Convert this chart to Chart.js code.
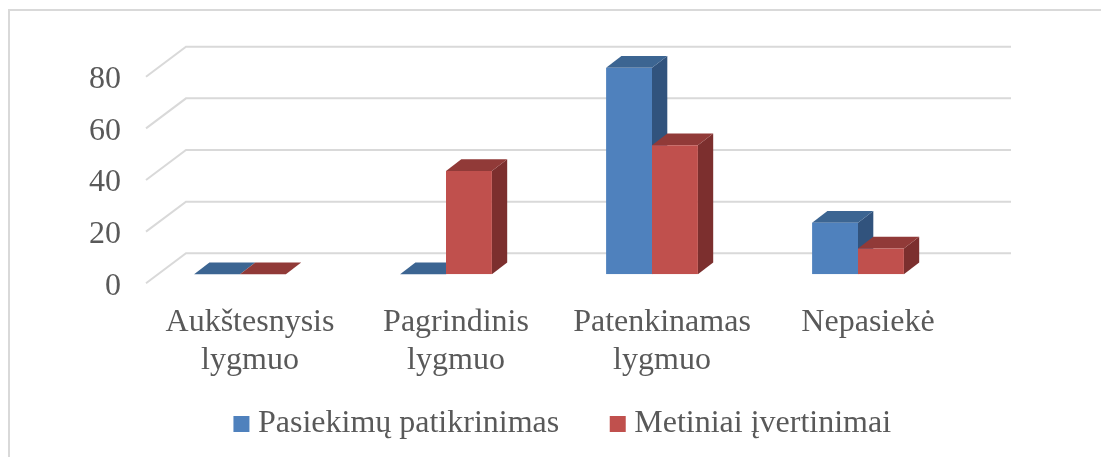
<!DOCTYPE html>
<html>
<head>
<meta charset="utf-8">
<script src="https://cdn.jsdelivr.net/npm/chart.js"></script>
<style>
  html, body { margin: 0; padding: 0; background: #fff; }
  #wrap { position: relative; width: 1101px; height: 457px; }
</style>
</head>
<body>
<div id="wrap"><canvas id="chart"></canvas></div>
<script>
const categories = [['Aukštesnysis', 'lygmuo'], ['Pagrindinis', 'lygmuo'], ['Patenkinamas', 'lygmuo'], 'Nepasiekė'];
const pasiekimuValues = [0, 0, 80, 20];
const metiniaiValues = [0, 40, 50, 10];
const yTicks = [0, 20, 40, 60, 80];

const font = 'Liberation Serif';
const textColor = '#595959';

// fake 3D: depth of the bars and of the floor
const barDepth = { x: 15.3, y: 11.7 };
const gridFront = { x: 146, y: 9 };
const gridBack = { x: 186, y: -21 };
const gridRight = 1011;

const frame3d = {
    id: 'frame3d',
    afterLayout(chart) {
        // the x labels get clipped to the axis box, the legend sits close under it
        chart.scales.x.bottom = 385;
        // legend is not centred on the plot, it spans the whole width
        chart.legend.left = 31;
        chart.legend.right = 1101;
    },
    beforeDraw(chart) {
        const ctx = chart.ctx;
        const yScale = chart.scales.y;
        ctx.save();
        ctx.fillStyle = '#fff';
        ctx.fillRect(0, 0, chart.width, chart.height);
        ctx.strokeStyle = '#d9d9d9';
        ctx.lineWidth = 2;
        ctx.beginPath();
        ctx.moveTo(9, 457);
        ctx.lineTo(9, 10);
        ctx.lineTo(1101, 10);
        ctx.stroke();
        ctx.lineWidth = 2;
        yTicks.forEach(v => {
            const y = yScale.getPixelForValue(v);
            ctx.beginPath();
            ctx.moveTo(gridFront.x, y + gridFront.y);
            ctx.lineTo(gridBack.x, y + gridBack.y);
            ctx.lineTo(gridRight, y + gridBack.y);
            ctx.stroke();
        });
        ctx.restore();
    },
    beforeDatasetsDraw(chart) {
        const ctx = chart.ctx;
        const faces = [
            { top: '#3c6592', side: '#31537d' },
            { top: '#913a38', side: '#7c2f2e' }
        ];
        ctx.save();
        categories.forEach((c, i) => {
            faces.forEach((f, d) => {
                const bar = chart.getDatasetMeta(d).data[i];
                const left = bar.x - bar.width / 2;
                const right = bar.x + bar.width / 2;
                // side
                ctx.fillStyle = f.side;
                ctx.beginPath();
                ctx.moveTo(right, bar.y);
                ctx.lineTo(right + barDepth.x, bar.y - barDepth.y);
                ctx.lineTo(right + barDepth.x, bar.base - barDepth.y);
                ctx.lineTo(right, bar.base);
                ctx.closePath();
                ctx.fill();
                // top
                ctx.fillStyle = f.top;
                ctx.beginPath();
                ctx.moveTo(left, bar.y);
                ctx.lineTo(left + barDepth.x, bar.y - barDepth.y);
                ctx.lineTo(right + barDepth.x, bar.y - barDepth.y);
                ctx.lineTo(right, bar.y);
                ctx.closePath();
                ctx.fill();
            });
        });
        ctx.restore();
    }
};

new Chart(document.getElementById('chart'), {
    type: 'bar',
    data: {
        labels: categories,
        datasets: [
            { label: 'Pasiekimų patikrinimas', data: pasiekimuValues, backgroundColor: '#4f81bd', borderWidth: 0 },
            { label: 'Metiniai įvertinimai', data: metiniaiValues, backgroundColor: '#c0504d', borderWidth: 0 }
        ]
    },
    options: {
        responsive: true,
        maintainAspectRatio: false,
        animation: false,
        layout: { padding: { left: 28, right: 140, top: 67.7, bottom: 7 } },
        datasets: { bar: { barPercentage: 1, categoryPercentage: 0.4456 } },
        scales: {
            x: {
                grid: { display: false, drawTicks: false },
                border: { display: false },
                ticks: {
                    color: textColor,
                    font: { family: font, size: 32, lineHeight: 1.17 },
                    labelOffset: 10,
                    padding: 30,
                    maxRotation: 0,
                    autoSkip: false
                },
                afterFit(scale) { scale.height = 75.7; }
            },
            y: {
                min: 0,
                max: 80,
                grid: { display: false, drawTicks: false },
                border: { display: false },
                ticks: {
                    stepSize: 20,
                    color: textColor,
                    font: { family: font, size: 32 },
                    labelOffset: 12,
                    padding: 16
                },
                afterFit(scale) { scale.width = 109; }
            }
        },
        plugins: {
            tooltip: { enabled: false },
            legend: {
                position: 'bottom',
                labels: {
                    usePointStyle: true,
                    pointStyle: 'rect',
                    boxWidth: 1,
                    boxHeight: 16,
                    padding: 58,
                    color: textColor,
                    font: { family: font, size: 32 }
                }
            }
        }
    },
    plugins: [frame3d]
});
</script>
</body>
</html>
